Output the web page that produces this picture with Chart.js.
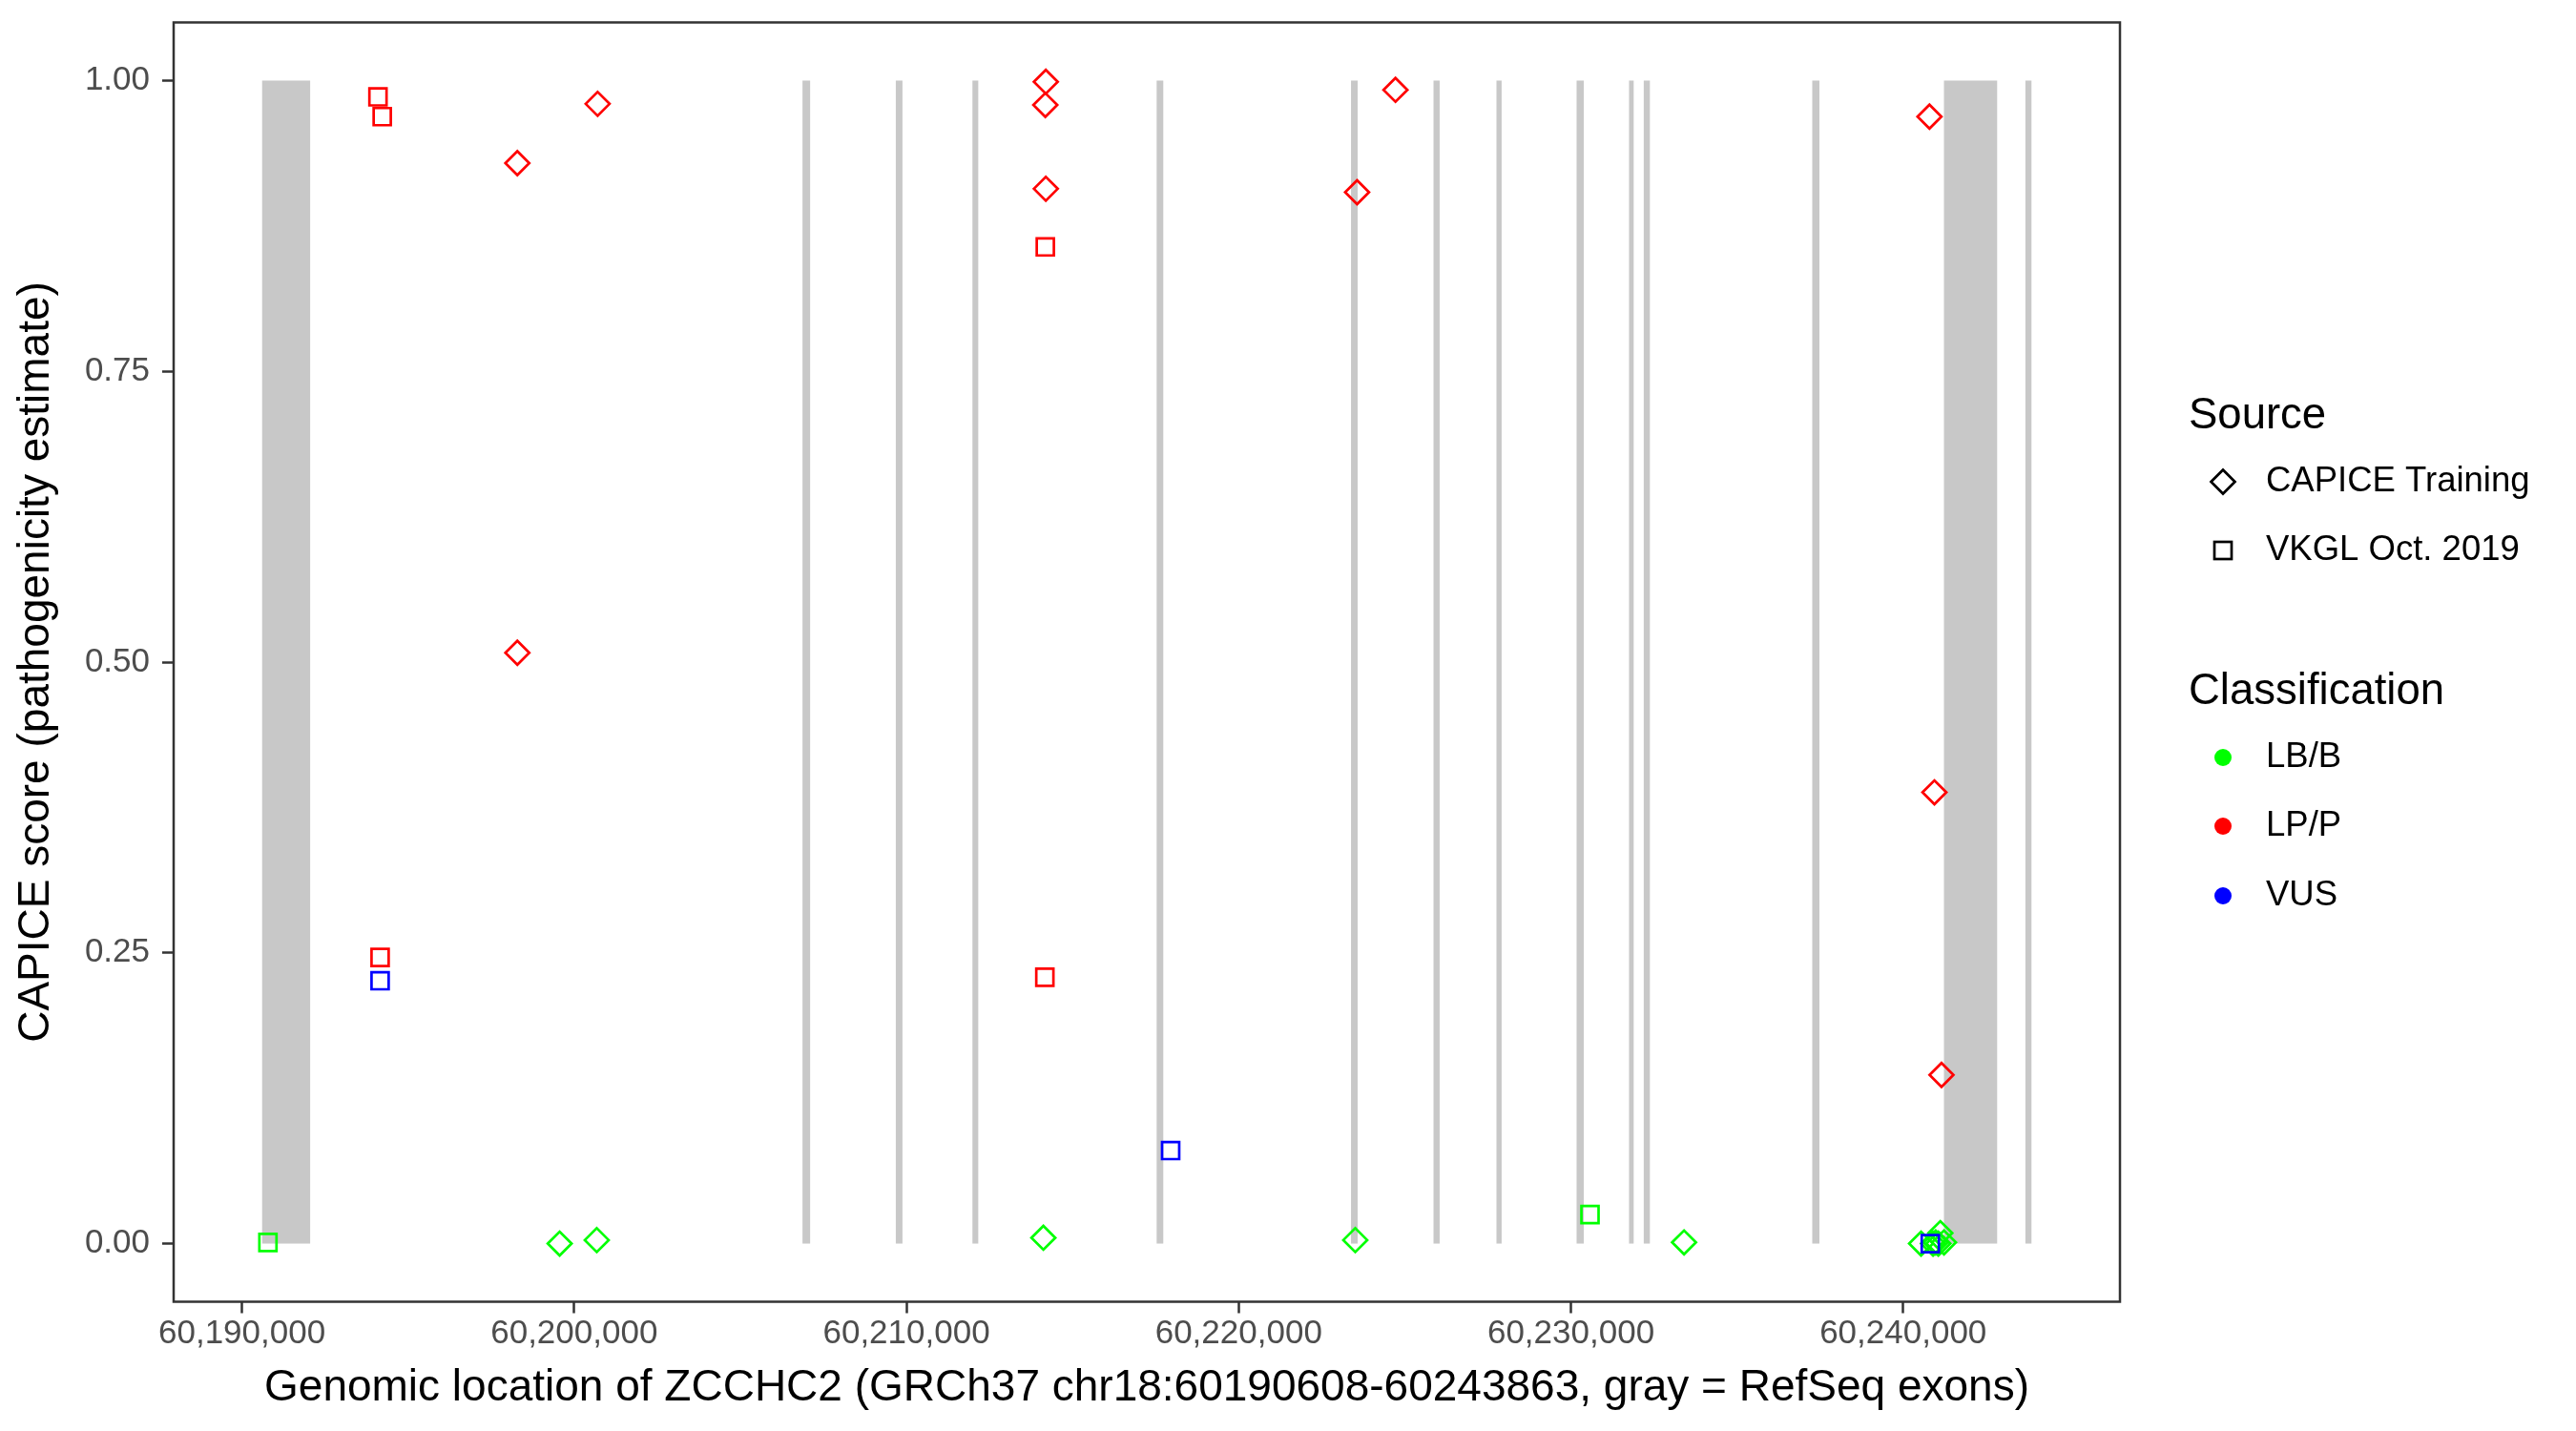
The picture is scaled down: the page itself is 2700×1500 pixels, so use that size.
<!DOCTYPE html>
<html>
<head>
<meta charset="utf-8">
<title>CAPICE scores along ZCCHC2</title>
<script src="https://cdn.jsdelivr.net/npm/chart.js@4.4.1/dist/chart.umd.min.js"></script>
<style>
  html, body { margin: 0; padding: 0; background: #ffffff; }
  #wrap { width: 2700px; height: 1500px; position: relative; }
</style>
</head>
<body>
<div id="wrap"><canvas id="capiceChart"></canvas></div>
<script>
// RefSeq exons of ZCCHC2 (bp), drawn as gray bands from score 0 to 1
const exonStart = [60190608, 60206873, 60209681, 60211988, 60217532, 60223382, 60225865, 60227760, 60230172, 60231750, 60232193, 60237265, 60241229, 60243680];
const exonEnd   = [60192054, 60207103, 60209881, 60212163, 60217732, 60223582, 60226050, 60227915, 60230387, 60231890, 60232378, 60237480, 60242830, 60243863];

// CAPICE Training variants
const capiceLpPos   = [60198290, 60198290, 60200706, 60214196, 60214181, 60214196, 60223565, 60224720, 60240793, 60240942, 60241155];
const capiceLpScore = [0.929, 0.508, 0.980, 0.999, 0.979, 0.907, 0.904, 0.992, 0.969, 0.388, 0.145];
const capiceLbPos   = [60199564, 60200680, 60214123, 60223510, 60233406, 60240540, 60240900, 60240980, 60241060, 60241120, 60241230];
const capiceLbScore = [0.000, 0.003, 0.005, 0.003, 0.001, 0.000, 0.000, 0.001, 0.000, 0.009, 0.001];

// VKGL Oct. 2019 variants
const vkglLpPos    = [60194095, 60194223, 60194159, 60214181, 60214167];
const vkglLpScore  = [0.986, 0.969, 0.246, 0.857, 0.229];
const vkglVusPos   = [60194159, 60217953, 60240818];
const vkglVusScore = [0.226, 0.080, 0.000];
const vkglLbPos    = [60190783, 60230575];
const vkglLbScore  = [0.001, 0.025];

// axes
const xMin = 60187945, xMax = 60246526;
const xTicks = [60190000, 60200000, 60210000, 60220000, 60230000, 60240000];
const yMin = -0.05, yMax = 1.05;
const yTicks = [0, 0.25, 0.5, 0.75, 1];

const sourceLabels = ['CAPICE Training', 'VKGL Oct. 2019'];
const classLabels = ['LB/B', 'LP/P', 'VUS'];
const classColors = ['#00ff00', '#ff0000', '#0000ff'];

const FONT = "'Liberation Sans', Arial, Helvetica, sans-serif";

function toPoints(xs, ys) {
    return xs.map((v, i) => ({ x: v, y: ys[i] }));
}

function series(label, xs, ys, color, shape) {
    return {
        label: label,
        data: toPoints(xs, ys),
        pointStyle: shape,
        pointRadius: shape === 'rect' ? 12.7 : 12.5,
        pointBorderWidth: 2.7,
        pointBorderColor: color,
        pointBackgroundColor: 'rgba(0,0,0,0)',
        showLine: false
    };
}

const exonBands = {
    id: 'exonBands',
    beforeDatasetsDraw(chart) {
        const { ctx, scales: { x, y } } = chart;
        const top = y.getPixelForValue(1);
        const bottom = y.getPixelForValue(0);
        ctx.save();
        ctx.fillStyle = '#c8c8c8';
        exonStart.forEach((s, i) => {
            const left = x.getPixelForValue(s);
            const right = x.getPixelForValue(exonEnd[i]);
            ctx.fillRect(left, top, right - left, bottom - top);
        });
        ctx.restore();
    }
};

const panelFrame = {
    id: 'panelFrame',
    afterDatasetsDraw(chart) {
        const { ctx, chartArea: a } = chart;
        ctx.save();
        ctx.strokeStyle = '#333333';
        ctx.lineWidth = 2.5;
        ctx.strokeRect(a.left, a.top, a.right - a.left, a.bottom - a.top);
        ctx.restore();
    }
};

function diamond(ctx, x, y, r) {
    ctx.beginPath();
    ctx.moveTo(x - r, y);
    ctx.lineTo(x, y - r);
    ctx.lineTo(x + r, y);
    ctx.lineTo(x, y + r);
    ctx.closePath();
    ctx.stroke();
}

// ggplot-style legend with two groups to the right of the panel
const sideLegend = {
    id: 'sideLegend',
    afterDraw(chart) {
        const { ctx, chartArea: a } = chart;
        const titleX = a.right + 72, keyX = a.right + 108, textX = a.right + 153;
        ctx.save();
        ctx.fillStyle = '#000000';
        ctx.textBaseline = 'middle';
        ctx.textAlign = 'left';

        ctx.font = '45.5px ' + FONT;
        ctx.fillText('Source', titleX, 436);
        ctx.fillText('Classification', titleX, 725);

        ctx.font = '36.5px ' + FONT;
        ctx.strokeStyle = '#000000';
        ctx.lineWidth = 2.7;
        diamond(ctx, keyX, 505, 12.5);
        ctx.fillText(sourceLabels[0], textX, 505);
        const s = 9;
        ctx.strokeRect(keyX - s, 577 - s, 2 * s, 2 * s);
        ctx.fillText(sourceLabels[1], textX, 577);

        const rows = [794, 866, 939];
        classLabels.forEach((lab, i) => {
            ctx.fillStyle = classColors[i];
            ctx.beginPath();
            ctx.arc(keyX, rows[i], 9, 0, Math.PI * 2);
            ctx.fill();
            ctx.fillStyle = '#000000';
            ctx.fillText(lab, textX, rows[i]);
        });
        ctx.restore();
    }
};

document.addEventListener('DOMContentLoaded', function () {
    const canvas = document.getElementById('capiceChart');
    if (!canvas) {
        console.error('Canvas element not found');
        return;
    }

    // first dataset is drawn on top
    const datasets = [
        series('VKGL VUS', vkglVusPos, vkglVusScore, classColors[2], 'rect'),
        series('VKGL LP/P', vkglLpPos, vkglLpScore, classColors[1], 'rect'),
        series('VKGL LB/B', vkglLbPos, vkglLbScore, classColors[0], 'rect'),
        series('CAPICE LP/P', capiceLpPos, capiceLpScore, classColors[1], 'rectRot'),
        series('CAPICE LB/B', capiceLbPos, capiceLbScore, classColors[0], 'rectRot')
    ];

    new Chart(canvas.getContext('2d'), {
        type: 'scatter',
        data: { datasets: datasets },
        options: {
            responsive: true,
            maintainAspectRatio: false,
            animation: false,
            layout: { padding: { left: 0, top: 23.5, right: 478, bottom: 0 } },
            plugins: {
                legend: { display: false },
                tooltip: { enabled: false }
            },
            scales: {
                x: {
                    type: 'linear',
                    min: xMin,
                    max: xMax,
                    afterFit: function (scale) {
                        scale.height = 135.5;
                        scale.paddingLeft = 0;
                        scale.paddingRight = 0;
                    },
                    afterBuildTicks: function (scale) { scale.ticks = xTicks.map(v => ({ value: v })); },
                    grid: { drawOnChartArea: false, drawTicks: true, tickLength: 12, color: '#333333', tickColor: '#333333', tickWidth: 2.5 },
                    border: { display: false },
                    ticks: {
                        color: '#4d4d4d',
                        font: { family: FONT, size: 35 },
                        padding: 1,
                        maxRotation: 0,
                        autoSkip: false,
                        callback: v => Number(v).toLocaleString('en-US')
                    },
                    title: {
                        display: true,
                        text: 'Genomic location of ZCCHC2 (GRCh37 chr18:60190608-60243863, gray = RefSeq exons)',
                        color: '#000000',
                        font: { family: FONT, size: 46, lineHeight: 1 },
                        padding: { top: 0, bottom: 22 }
                    }
                },
                y: {
                    type: 'linear',
                    min: yMin,
                    max: yMax,
                    afterFit: function (scale) {
                        scale.width = 182;
                        scale.paddingTop = 0;
                        scale.paddingBottom = 0;
                    },
                    afterBuildTicks: function (scale) { scale.ticks = yTicks.map(v => ({ value: v })); },
                    grid: { drawOnChartArea: false, drawTicks: true, tickLength: 12, color: '#333333', tickColor: '#333333', tickWidth: 2.5 },
                    border: { display: false },
                    ticks: {
                        color: '#4d4d4d',
                        font: { family: FONT, size: 35 },
                        padding: 13,
                        autoSkip: false,
                        callback: v => Number(v).toFixed(2)
                    },
                    title: {
                        display: true,
                        text: 'CAPICE score (pathogenicity estimate)',
                        color: '#000000',
                        font: { family: FONT, size: 46, lineHeight: 1 },
                        padding: { top: 15, bottom: 0 }
                    }
                }
            }
        },
        plugins: [exonBands, panelFrame, sideLegend]
    });
});
</script>
</body>
</html>
